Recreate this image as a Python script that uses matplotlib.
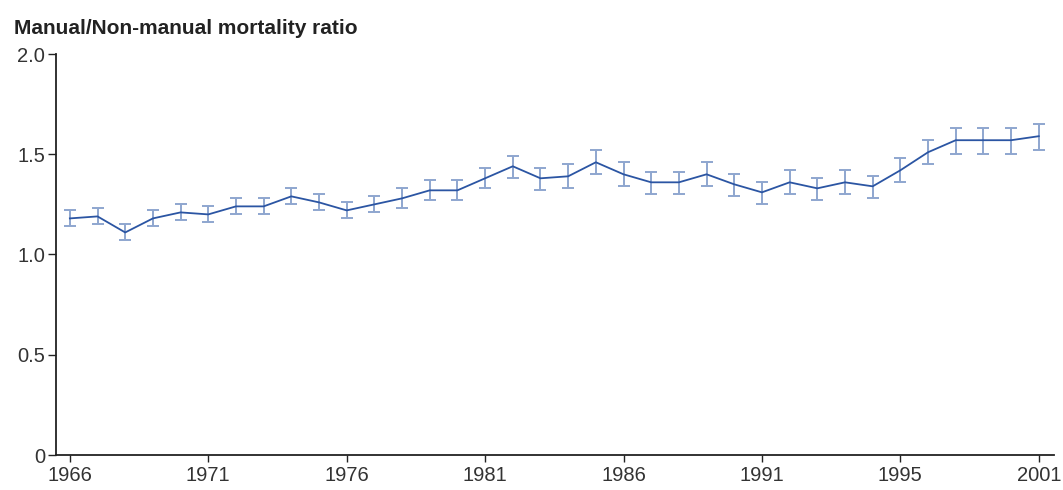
import matplotlib
matplotlib.use("Agg")
import matplotlib.pyplot as plt
import numpy as np

plt.rcParams['font.family'] = ['Liberation Sans', 'DejaVu Sans']

years = list(range(1966, 2002))
ratio = [1.18, 1.19, 1.11, 1.18, 1.21, 1.20, 1.24, 1.24, 1.29, 1.26,
         1.22, 1.25, 1.28, 1.32, 1.32, 1.38, 1.44, 1.38, 1.39, 1.46,
         1.40, 1.36, 1.36, 1.40, 1.35, 1.31, 1.36, 1.33, 1.36, 1.34,
         1.42, 1.51, 1.57, 1.57, 1.57, 1.59]
lower = [1.14, 1.15, 1.07, 1.14, 1.17, 1.16, 1.20, 1.20, 1.25, 1.22,
         1.18, 1.21, 1.23, 1.27, 1.27, 1.33, 1.38, 1.32, 1.33, 1.40,
         1.34, 1.30, 1.30, 1.34, 1.29, 1.25, 1.30, 1.27, 1.30, 1.28,
         1.36, 1.45, 1.50, 1.50, 1.50, 1.52]
upper = [1.22, 1.23, 1.15, 1.22, 1.25, 1.24, 1.28, 1.28, 1.33, 1.30,
         1.26, 1.29, 1.33, 1.37, 1.37, 1.43, 1.49, 1.43, 1.45, 1.52,
         1.46, 1.41, 1.41, 1.46, 1.40, 1.36, 1.42, 1.38, 1.42, 1.39,
         1.48, 1.57, 1.63, 1.63, 1.63, 1.65]
tick_idx = [0, 5, 10, 15, 20, 25, 30, 35]
tick_labels = ['1966', '1971', '1976', '1981', '1986', '1991', '1995', '2001']
y_ticks = [0, 0.5, 1.0, 1.5, 2.0]
y_labels = ['0', '0.5', '1.0', '1.5', '2.0']

fig = plt.figure(figsize=(10.63, 4.90), dpi=100)
ax = fig.add_axes([56/1063, 1-455/490, (1054-56)/1063, (455-54)/490])

x = np.arange(len(years))
r = np.array(ratio)
err = [r - np.array(lower), np.array(upper) - r]
ax.errorbar(x, r, yerr=err, fmt='none', ecolor='#8ea6cf', elinewidth=1.4,
            capsize=4.5, capthick=1.4, zorder=2)
ax.plot(x, r, color='#2b55a3', lw=1.3, zorder=3)

ax.set_xlim(-0.5, 35.55)
ax.set_ylim(0, 2.0)
ax.set_xticks(tick_idx)
ax.set_xticklabels(tick_labels)
ax.set_yticks(y_ticks)
ax.set_yticklabels(y_labels)
for s in ['top', 'right']:
    ax.spines[s].set_visible(False)
for s in ['left', 'bottom']:
    ax.spines[s].set_color('#222222')
    ax.spines[s].set_linewidth(1.3)
ax.tick_params(axis='both', colors='#222222', labelcolor='#333333', labelsize=14.5)
ax.tick_params(axis='y', length=6, width=1.0, pad=2)
ax.tick_params(axis='x', length=5, width=1.0, pad=3)

fig.text(14/1063, 1-28/490, 'Manual/Non-manual mortality ratio', fontsize=15,
         fontweight='bold', color='#222222', ha='left', va='center')

fig.savefig('out.png', dpi=100)
